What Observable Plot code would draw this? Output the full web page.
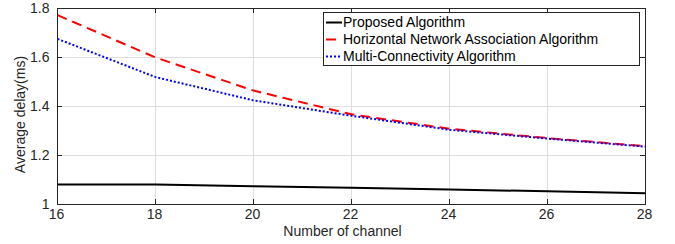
<!DOCTYPE html>
<html><head><meta charset="utf-8">
<script src="https://cdn.jsdelivr.net/npm/d3@7"></script>
<script src="https://cdn.jsdelivr.net/npm/@observablehq/plot@0.6"></script>
<style>
body{margin:0;background:#fff;font-family:"Liberation Sans",Arial,sans-serif}
#wrap{position:relative;width:675px;height:244px}
#legend{position:absolute;left:323px;top:12px;width:317px;height:54px;border:1px solid #262626;background:#fff;box-sizing:border-box;font-size:14px;color:#000}
#legend .row{position:absolute;left:0;height:17px;line-height:17px;white-space:nowrap}
#legend svg{position:absolute;left:2px;top:0}
#legend span{position:absolute;left:19px;top:0}
</style>
</head><body><div id="wrap"><div id="legend"></div></div><script>
const channels=[16,18,20,22,24,26,28];
const proposed=[1.082,1.082,1.074,1.068,1.061,1.054,1.046];
const horizontal=[1.773,1.600,1.465,1.368,1.309,1.271,1.238];
const multi=[1.676,1.520,1.425,1.362,1.305,1.269,1.236];
const seriesNames=["Proposed Algorithm","Horizontal Network Association Algorithm","Multi-Connectivity Algorithm"];
const seriesColors=["#000000","#ff0000","#0000ff"];
const seriesDash=[null,"10,6","2,2"];
const xTicks=[16,18,20,22,24,26,28];
const yTicks=[1,1.2,1.4,1.6,1.8];
const xLabel="Number of channel";
const yLabel="Average delay(ms)";

const seriesValues=[proposed,horizontal,multi];
const W=675,H=244,mL=57,mR=30,mT=8,mB=40;
const fw=W-mL-mR, fh=H-mT-mB, tk=5;

const lineMarks=seriesValues.map((vals,i)=>Plot.line(channels.map((c,j)=>({x:c,y:vals[j]})),{x:"x",y:"y",stroke:seriesColors[i],strokeWidth:2,strokeDasharray:seriesDash[i],strokeLinecap:"butt"}));

const chart=Plot.plot({
  width:W,height:H,marginLeft:mL,marginRight:mR,marginTop:mT,marginBottom:mB,
  style:{fontFamily:"Liberation Sans, Arial, sans-serif",fontSize:"14px",background:"#fff",color:"#262626"},
  x:{domain:[16,28]},
  y:{domain:[1,1.8]},
  marks:[
    Plot.gridX(xTicks,{stroke:"#dedede",strokeOpacity:1}),
    Plot.gridY(yTicks,{stroke:"#dedede",strokeOpacity:1}),
    ...lineMarks,
    Plot.ruleX(xTicks,{x:d=>d,stroke:"#262626",insetTop:fh-tk}),
    Plot.ruleX(xTicks,{x:d=>d,stroke:"#262626",insetBottom:fh-tk}),
    Plot.ruleY(yTicks,{y:d=>d,stroke:"#262626",insetRight:fw-tk}),
    Plot.ruleY(yTicks,{y:d=>d,stroke:"#262626",insetLeft:fw-tk}),
    Plot.frame({stroke:"#262626"}),
    Plot.axisX(xTicks,{tickSize:0,tickPadding:5,label:null,fill:"#262626",fontSize:14,dx:-1}),
    Plot.axisY(yTicks,{tickSize:0,tickPadding:8,label:null,fill:"#262626",fontSize:14,tickFormat:d=>String(d)}),
    Plot.text([xLabel],{frameAnchor:"bottom",textAnchor:"middle",dy:31,dx:-9,fill:"#262626",fontSize:14}),
    Plot.text([yLabel],{frameAnchor:"left",textAnchor:"middle",dx:-37,dy:8,rotate:-90,fill:"#262626",fontSize:14})
  ]
});
document.getElementById("wrap").prepend(chart);
chart.style.position="absolute";chart.style.left="0";chart.style.top="0";

const lg=document.getElementById("legend");
seriesNames.forEach((n,i)=>{
  const row=document.createElement("div");
  row.className="row";row.style.top=(1+i*17)+"px";
  row.innerHTML=`<svg width="16" height="17"><line x1="0" x2="16" y1="8.5" y2="8.5" stroke="${seriesColors[i]}" stroke-width="2" ${seriesDash[i]?`stroke-dasharray="${seriesDash[i]}"`:""}/></svg><span>${n}</span>`;
  lg.appendChild(row);
});
</script></body></html>
